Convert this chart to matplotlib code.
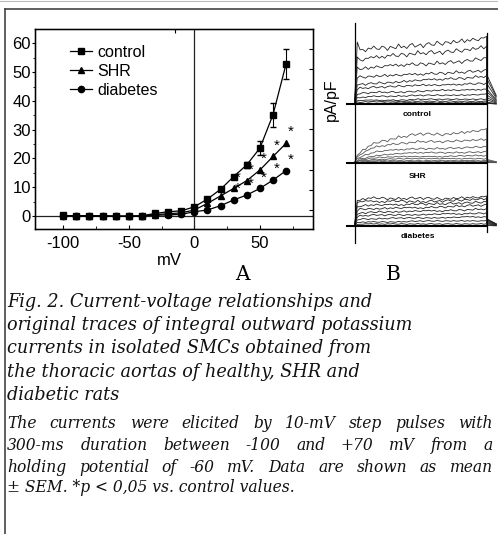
import numpy as np
import matplotlib
matplotlib.use('Agg')
import matplotlib.pyplot as plt
from matplotlib.lines import Line2D

W, H = 498, 534

# --- Panel A: current-voltage relationship (pA/pF) ---
voltage = [-100, -90, -80, -70, -60, -50, -40, -30, -20, -10,
           0, 10, 20, 30, 40, 50, 60, 70]
control = [0.2, 0.1, 0.1, 0.1, 0.0, 0.0, 0.1, 0.9, 1.5, 1.8,
           3.2, 5.9, 9.3, 13.7, 17.8, 23.6, 35.2, 52.9]
control_sem = [0, 0, 0, 0, 0, 0, 0, 0, 0, 0,
               0, 0, 0, 0.6, 1.0, 2.4, 4.2, 5.2]
shr = [0.1, 0.1, 0.0, 0.0, -0.1, -0.1, 0.0, 0.5, 0.8, 1.1,
       2.1, 4.4, 7.0, 9.6, 12.3, 16.0, 20.7, 25.3]
diabetes = [0.1, 0.0, 0.0, -0.1, -0.1, -0.1, 0.0, 0.3, 0.4, 0.6,
            1.5, 2.1, 3.6, 5.6, 7.3, 9.6, 12.5, 15.8]
star_voltage = [30, 40, 50, 60, 70]

# --- Panel B: original traces (levels read in px above baseline) ---
trace_t = [0, 4, 15, 50, 100, 150, 200, 250, 300]
control_traces = [
    [0, 62, 54, 56, 57, 59, 61, 63, 66],
    [0, 46, 44, 47, 49, 51, 52, 54, 57],
    [0, 36, 35, 37, 39, 40, 41, 43, 46],
    [0, 27, 27, 28, 29, 30, 31, 32, 34],
    [0, 20, 20, 21, 22, 24, 25, 26, 28],
    [0, 15, 16, 17, 18, 19, 19, 20, 21],
    [0, 10, 11, 12, 12, 13, 14, 14, 15],
    [0, 6, 7, 8, 8, 9, 9, 9, 10],
    [0, 3, 4, 4, 4, 5, 5, 5, 5],
    [0, 2, 2, 3, 3, 3, 3, 3, 3],
    [0, 1, 1, 1, 1.5, 1.5, 1.5, 1.5, 2],
]
shr_traces = [
    [0, 5, 12, 20, 25, 29, 28, 30, 33],
    [0, 4, 9, 16, 19, 21, 21, 22, 23],
    [0, 3, 6, 11, 13, 14, 14, 15, 16],
    [0, 2, 4, 7, 9, 10, 10, 10, 11],
    [0, 1, 3, 5, 6, 6, 6, 7, 7],
    [0, 1, 2, 3, 4, 4, 4, 4, 4],
    [0, 0.5, 1, 2, 2, 2, 2, 2, 2],
    [0, 0, 0.5, 1, 1, 1, 1, 1, 1],
]
diabetes_traces = [
    [0, 24, 27, 28, 27, 28, 27, 28, 29],
    [0, 22, 25, 24, 25, 24, 25, 26, 27],
    [0, 18, 20, 21, 21, 22, 22, 23, 24],
    [0, 15, 17, 17, 18, 18, 19, 20, 21],
    [0, 12, 13, 14, 14, 15, 15, 16, 17],
    [0, 9, 10, 11, 11, 11, 12, 12, 13],
    [0, 6, 7, 7, 8, 8, 8, 9, 9],
    [0, 3, 4, 4, 4, 5, 5, 5, 5],
    [0, 1, 2, 2, 2, 2, 2, 2, 2],
]
# jitter of the top control trace around its trend (px)
wiggle = [0, 1.5, -1, 0.5, -1.5, 1, 0, 2, -0.5, -1, 1.5, 0.5, -2, 1, 0,
          -1, 2.5, -0.5, 0.5, -1.5, 1, 2, -1, 0, 1, -2, 0.5, 1.5, -0.5,
          -1, 2, 0, -1.5, 1, 0.5, -1, 1.5, -0.5, 0, 2, -1, 1, -0.5, 1.5,
          0, -1, 1, 0.5, 1.5]

caption1 = ["Fig. 2. Current-voltage relationships and",
            "original traces of integral outward potassium",
            "currents in isolated SMCs obtained from",
            "the thoracic aortas of healthy, SHR and",
            "diabetic rats"]
caption2 = ["The currents were elicited by 10-mV step pulses with",
            "300-ms duration between -100 and +70 mV from a",
            "holding potential of -60 mV. Data are shown as mean",
            "\u00b1 SEM. *p < 0,05 vs. control values."]

plt.rcParams['font.family'] = ['Liberation Sans', 'DejaVu Sans']
plt.rcParams['axes.unicode_minus'] = False

fig = plt.figure(figsize=(W / 100, H / 100), dpi=100)
renderer = fig.canvas.get_renderer()


def text_px(x, y, s, **kw):
    return fig.text(x / W, 1 - y / H, s, **kw)


# outer frame of the figure box
fig.add_artist(Line2D([5 / W, 1], [1 - 9 / H] * 2, color='#444', lw=1.2))
fig.add_artist(Line2D([5 / W] * 2, [0, 1 - 9 / H], color='#444', lw=1.2))
fig.add_artist(Line2D([0, 1], [1 - 0.5 / H] * 2, color='#bbb', lw=0.8))

# ---------------- Panel A ----------------
ax = fig.add_axes([35 / W, (H - 229) / H, 278 / W, 200 / H])
ax.set_xlim(-121.5, 90.5)
ax.set_ylim(-4.5, 65)
ax.axvline(0, color='#222', lw=0.9)
ax.axhline(0, color='#222', lw=0.9)

mk = dict(color='black', lw=0.9, markersize=4.5)
ax.plot(voltage, control, '-s', label='control', **mk)
ax.plot(voltage, shr, '-^', label='SHR', **mk)
ax.plot(voltage, diabetes, '-o', label='diabetes', **mk)

sem = np.array(control_sem)
has = sem > 0
ax.errorbar(np.array(voltage)[has], np.array(control)[has], yerr=sem[has],
            fmt='none', ecolor='black', elinewidth=0.8, capsize=2.5)

for series in (shr, diabetes):
    for v in star_voltage:
        y = series[voltage.index(v)]
        ax.annotate('*', (v, y), xytext=(3, 8), textcoords='offset points',
                    ha='center', va='center', fontsize=11)

ax.set_xticks([-100, -50, 0, 50])
ax.set_xticks([-75, -25, 25, 75], minor=True)
ax.set_yticks([0, 10, 20, 30, 40, 50, 60])
ax.set_yticks([5, 15, 25, 35, 45, 55], minor=True)
ax.tick_params(axis='x', which='both', direction='in', labelsize=12, pad=5)
ax.tick_params(axis='x', which='major', length=3)
ax.tick_params(axis='x', which='minor', length=2)
ax.tick_params(axis='y', which='both', direction='out', labelsize=12, pad=0.5)
ax.tick_params(axis='y', which='major', length=2.5)
ax.tick_params(axis='y', which='minor', length=1.5)
for s in ax.spines.values():
    s.set_linewidth(1.0)

ax_r = ax.twinx()
ax_r.set_ylim(-0.944, 8.99)
ax_r.set_yticks(range(9))
ax_r.tick_params(direction='in', length=3, labelright=False)
ax_t = ax.twiny()
ax_t.set_xlim(ax.get_xlim())
ax_t.set_xticks([-15])
ax_t.tick_params(direction='in', length=3, labeltop=False)

ax.legend(loc='upper left', bbox_to_anchor=(0.125, 0.92), frameon=False,
          fontsize=11.5, handlelength=1.4, handletextpad=0.3,
          labelspacing=0.25, borderpad=0, borderaxespad=0)

text_px(169.5, 260, 'mV', fontsize=12, ha='center', va='center')
text_px(331, 100, 'pA/pF', fontsize=11.5, rotation=90, ha='center', va='center')
text_px(242, 275, 'A', fontsize=14.5, family='DejaVu Serif', ha='center', va='center')
text_px(393, 275, 'B', fontsize=14.5, family='DejaVu Serif', ha='center', va='center')

# ---------------- Panel B ----------------
axb = fig.add_axes([340 / W, (H - 250) / H, 158 / W, 235 / H])
axb.set_xlim(-33, 326)
axb.set_ylim(0, 235)
axb.axis('off')

grid = np.linspace(0, 300, len(wiggle))
panels = [(control_traces, 145.7, 0.45, '#222', 'control', 135),
          (shr_traces, 87.3, 0.1, '#555', 'SHR', 73.3),
          (diabetes_traces, 24.0, 0.25, '#222', 'diabetes', 14)]
for traces, base, tail, col, name, label_y in panels:
    for i, lv in enumerate(traces):
        y = np.interp(grid, trace_t, lv)
        y = y + (0.2 + lv[-1] / 60) * np.roll(wiggle, 7 * i)
        y[0] = 0
        t = np.r_[-2, grid, 300.5, 322]
        y = np.r_[0, y, tail * lv[-1], tail * 0.3 * lv[-1]]
        axb.plot(t, base + y, color=col, lw=0.6)
    axb.plot([-17, 300], [base, base], color='black', lw=1.5)
    axb.text(143, label_y, name, fontsize=6, fontweight='bold',
             ha='center', va='center')
axb.plot([0, 0], [7, 227.3], color='black', lw=0.9)
axb.plot([300, 300], [18, 217], color='black', lw=0.9)

# ---------------- Caption ----------------
cap = dict(family='DejaVu Serif', style='italic', va='center', color='#111')


def width_px(s, size):
    t = text_px(0, 0, s, fontsize=size, **cap)
    w = t.get_window_extent(renderer).width
    t.remove()
    return w


size1 = 10 * 406 / width_px(caption1[1], 10)
for line, y in zip(caption1, [302, 325, 348, 372, 395]):
    text_px(7, y, line, fontsize=size1, **cap)

size2 = 10 * 420 / width_px(caption2[0], 10)
for k, (line, y) in enumerate(zip(caption2, [423, 445, 467, 488])):
    if k == len(caption2) - 1:
        text_px(7, y, line, fontsize=size2, **cap)
        continue
    words = line.split(' ')
    widths = [width_px(w, size2) for w in words]
    gap = (493 - 7 - sum(widths)) / (len(words) - 1)
    x = 7
    for w, wd in zip(words, widths):
        text_px(x, y, w, fontsize=size2, **cap)
        x += wd + gap

fig.savefig('out.png', dpi=100)
